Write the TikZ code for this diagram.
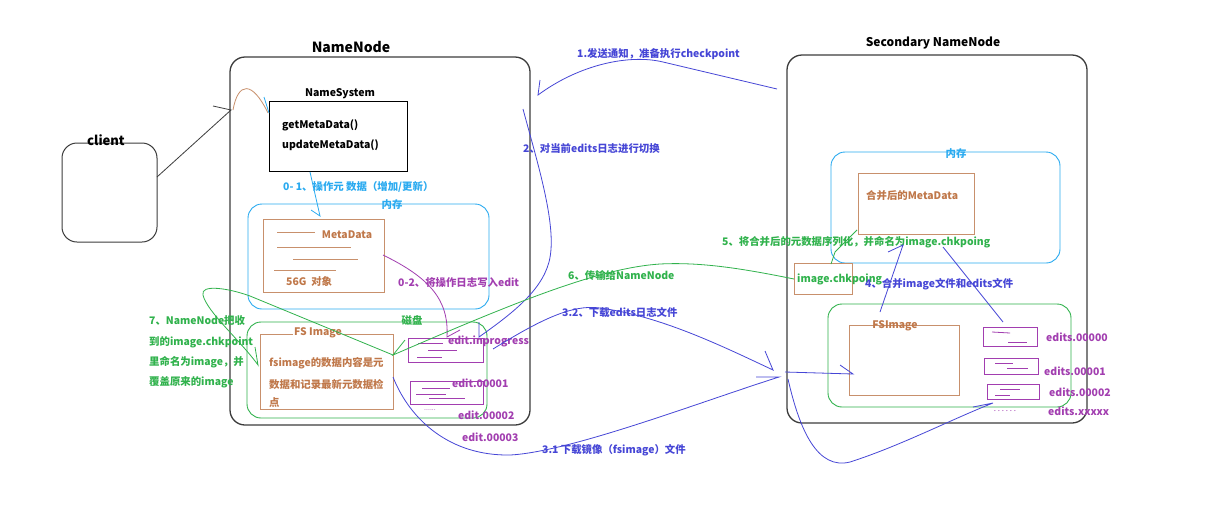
\documentclass[tikz,border=0pt]{standalone}
\usepackage{fontspec}
\setmainfont{Noto Sans CJK SC}
\usetikzlibrary{arrows.meta}
\definecolor{cblue}{HTML}{4646D6}
\definecolor{ccyan}{HTML}{2AAAF0}
\definecolor{cgreen}{HTML}{30B24C}
\definecolor{cpurple}{HTML}{A23EB0}
\definecolor{corange}{HTML}{C8906C}
\definecolor{cotext}{HTML}{C0784A}
\definecolor{cgray}{HTML}{3C3C3C}
\tikzset{
  lbl/.style={inner sep=0pt, anchor=west},
  ttl/.style={inner sep=0pt, font=\fontsize{13}{15}\selectfont\bfseries},
  bigbox/.style={draw=cgray, line width=1.3pt, rounded corners=15pt, anchor=north west, inner sep=0pt, outer sep=0pt},
  membox/.style={draw=ccyan, line width=0.9pt, rounded corners=14pt, anchor=north west, inner sep=0pt, outer sep=0pt},
  diskbox/.style={draw=cgreen, line width=0.9pt, rounded corners=14pt, anchor=north west, inner sep=0pt, outer sep=0pt},
  obox/.style={draw=corange, line width=1pt, anchor=north west, inner sep=0pt, outer sep=0pt},
  pbox/.style={draw=cpurple, line width=1pt, anchor=north west, inner sep=0pt, outer sep=0pt},
  bline/.style={draw=cblue, line width=0.8pt},
  gline/.style={draw=cgreen, line width=0.8pt},
  pline/.style={draw=cpurple, line width=0.8pt},
}
\begin{document}
\begin{tikzpicture}[x=1pt, y=-1pt, font=\fontsize{10.4}{12}\selectfont\bfseries]
\useasboundingbox[fill=white] (0,0) rectangle (1231,531);

% ---------- client ----------
\node[bigbox, line width=1pt, minimum width=95pt, minimum height=99pt] (client) at (62,143) {};
\node[ttl] (clientt) at (106,140) {client};

% ---------- NameNode ----------
\node[bigbox, minimum width=300pt, minimum height=368pt] (nn) at (230,57) {};
\node[ttl, font=\fontsize{14}{16}\selectfont\bfseries] (nnt) at (351,47) {NameNode};

\node[draw=black, line width=1pt, anchor=north west, inner sep=0pt, minimum width=138pt, minimum height=70pt] (ns) at (269,101) {};
\node[inner sep=0pt, font=\fontsize{10.5}{12}\selectfont\bfseries] (nst) at (340,94) {NameSystem};
\node[lbl, font=\fontsize{10.5}{12}\selectfont\bfseries] (get) at (282,125) {getMetaData()};
\node[lbl, font=\fontsize{10.5}{12}\selectfont\bfseries] (upd) at (282,145) {updateMetaData()};

\node[lbl, text=ccyan] (l01) at (283,187) {0- 1、操作元 数据（增加/更新）};

\node[membox, minimum width=241pt, minimum height=105pt] (mem1) at (248,204) {};
\node[inner sep=0pt, text=ccyan] (mem1t) at (392,205) {内存};

\node[obox, minimum width=121pt, minimum height=73pt] (md) at (263,219) {};
\node[inner sep=0pt, text=cotext] (mdt) at (347,235) {MetaData};
\draw[corange, line width=0.8pt] (277,232) -- (315,232);
\draw[corange, line width=0.8pt] (277,247) -- (351,247);
\draw[corange, line width=0.8pt] (293,259) -- (358,259);
\draw[corange, line width=0.8pt] (274,270) -- (336,270);
\node[lbl, text=cotext] (obj) at (286,282) {56G\ \ 对象};

\node[lbl, text=cpurple] (l02) at (398,283) {0-2、将操作日志写入edit};

\node[diskbox, minimum width=240pt, minimum height=96pt] (disk1) at (247,322) {};
\node[inner sep=0pt, text=cgreen] (disk1t) at (412,320) {磁盘};

\node[obox, minimum width=133pt, minimum height=75pt] (fsi) at (260,334) {};
\node[inner sep=1pt, fill=white, text=cotext] (fsit) at (318,333) {FS Image};
\node[lbl, text=cotext] (fs1) at (269,363) {fsimage的数据内容是元};
\node[lbl, text=cotext] (fs2) at (269,384) {数据和记录最新元数据检};
\node[lbl, text=cotext] (fs3) at (269,403) {点};

\node[pbox, minimum width=75pt, minimum height=24pt] (ei) at (408,338) {};
\draw[pline] (418,343) -- (443,343);
\draw[pline] (428,350) -- (457,350);
\draw[pline] (417,357) -- (442,357);
\node[pbox, minimum width=73pt, minimum height=23pt] (e1) at (410,381) {};
\draw[pline] (422,388) -- (450,388);
\draw[pline] (416,394) -- (446,394);
\draw[pline] (429,398) -- (465,398);
\node[lbl, text=cpurple] (eit) at (448,341) {edit.inprogress};
\node[lbl, text=cpurple] (e1t) at (452,383) {edit.00001};
\node[inner sep=0pt, text=cpurple, font=\fontsize{7}{8}\selectfont] (dots1) at (430,410) {......};
\node[lbl, text=cpurple] (e2t) at (458,415) {edit.00002};
\node[lbl, text=cpurple] (e3t) at (462,437) {edit.00003};

\node[lbl, text=cgreen] (l7a) at (149,321) {7、NameNode把收};
\node[lbl, text=cgreen] (l7b) at (149,342) {到的image.chkpoint};
\node[lbl, text=cgreen] (l7c) at (149,362) {里命名为image，并};
\node[lbl, text=cgreen] (l7d) at (149,382) {覆盖原来的image};

% ---------- Secondary NameNode ----------
\node[bigbox, minimum width=300pt, minimum height=368pt] (snn) at (787,55) {};
\node[ttl, font=\fontsize{12}{14}\selectfont\bfseries] (snnt) at (933,43) {Secondary NameNode};

\node[membox, minimum width=229pt, minimum height=111pt] (mem2) at (831,152) {};
\node[inner sep=0pt, text=ccyan] (mem2t) at (956,154) {内存};
\node[obox, minimum width=116pt, minimum height=61pt] (md2) at (858,173) {};
\node[lbl, text=cotext] (md2t) at (866,196) {合并后的MetaData};

\node[lbl, text=cgreen] (l5) at (722,242) {5、将合并后的元数据序列化，并命名为image.chkpoing};

\node[obox, minimum width=58pt, minimum height=31pt] (chk) at (794,263) {};
\node[lbl, text=cgreen] (chkt) at (797,279) {image.chkpoing};

\node[lbl, text=cblue] (l4) at (865,284) {4、合并image文件和edits文件};

\node[diskbox, minimum width=243pt, minimum height=103pt] (disk2) at (828,304) {};
\node[obox, minimum width=110pt, minimum height=70pt] (fsi2) at (849,325) {};
\node[inner sep=0pt, text=cotext] (fsi2t) at (895,326) {FSImage};

\node[pbox, minimum width=54pt, minimum height=19pt] (se0) at (983,327) {};
\draw[pline] (992,332) -- (1010,333);
\draw[pline] (1008,342) -- (1027,342);
\node[pbox, minimum width=54pt, minimum height=16pt] (se1) at (984,358) {};
\draw[pline] (995,363) -- (1013,363);
\draw[pline] (1007,368) -- (1028,368);
\node[pbox, minimum width=52pt, minimum height=15pt] (se2) at (987,384) {};
\draw[pline] (1000,389) -- (1020,389);
\draw[pline] (995,395) -- (1010,395);
\node[inner sep=0pt, text=cpurple, font=\fontsize{8}{9}\selectfont] (dots2) at (1005,411) {.\ .\ .\ .\ .\ .};
\node[lbl, text=cpurple] (se0t) at (1046,337) {edits.00000};
\node[lbl, text=cpurple] (se1t) at (1044,371) {edits.00001};
\node[lbl, text=cpurple] (se2t) at (1049,392) {edits.00002};
\node[lbl, text=cpurple] (sext) at (1048,411) {edits.xxxxx};

% ---------- labels between ----------
\node[lbl, text=cblue] (l1) at (577,54) {1.发送通知，准备执行checkpoint};
\node[lbl, text=cblue] (l2) at (523,149) {2、对当前edits日志进行切换};
\node[lbl, text=cblue] (l32) at (562,313) {3.2、下载edits日志文件};
\node[lbl, text=cblue] (l31) at (542,450) {3.1 下载镜像（fsimage）文件};
\node[lbl, text=cgreen] (l6) at (568,276) {6、传输给NameNode};

% ---------- connectors ----------
\coordinate (cA) at (157,177);
\coordinate (nnA) at (231,110);
\draw[cgray, line width=0.8pt] (cA) -- (nnA) -- (213,106);
\draw[corange, line width=0.8pt] (233,110) .. controls (238,82) and (252,80) .. (268,113);
\draw[ccyan, line width=0.8pt] (264,97) -- (269,113);
\coordinate (nsB) at (310,172);
\coordinate (mem1A) at (320,216);
\draw[ccyan, line width=0.8pt] (nsB) -- (mem1A) -- (311,210);

\coordinate (mdR) at (383,255);
\coordinate (eiA) at (447,337);
\draw[pline] (mdR) .. controls (430,278) and (449,300) .. (eiA) -- (460,330);

\coordinate (snnA) at (777,89);
\coordinate (nnB) at (538,95);
\draw[bline] (snnA) -- (663,62) .. controls (630,54) and (580,64) .. (nnB) -- (540,80);

\coordinate (s2) at (523,109);
\coordinate (eiB) at (479,337);
\draw[bline] (s2) .. controls (538,165) and (558,228) .. (549,262) .. controls (541,292) and (510,315) .. (eiB) -- (479,322);

\coordinate (eiC) at (493,349);
\coordinate (hub) at (773,370);
\draw[bline] (eiC) .. controls (540,320) and (572,304) .. (600,308) .. controls (660,316) and (720,345) .. (hub) -- (765,351);

\coordinate (fsiR) at (393,377);
\coordinate (hub2) at (779,377);
\draw[bline] (fsiR) .. controls (410,420) and (450,456) .. (510,455) .. controls (570,452) and (700,402) .. (hub2) -- (756,377);

\coordinate (hub3) at (785,372);
\coordinate (fsi2A) at (853,374);
\draw[bline] (hub3) -- (fsi2A) -- (840,365);

\coordinate (hub4) at (788,379);
\coordinate (se2A) at (993,403);
\draw[bline] (hub4) .. controls (800,432) and (818,470) .. (850,462) .. controls (900,446) and (950,420) .. (se2A) -- (973,407);

\coordinate (fsi2B) at (880,312);
\coordinate (md2A) at (903,245);
\draw[bline] (fsi2B) -- (md2A) -- (888,252);
\coordinate (md2B) at (943,247);
\coordinate (se0A) at (1003,322);
\draw[bline] (md2B) -- (se0A);

\coordinate (md2C) at (857,230);
\coordinate (chkA) at (831,264);
\draw[gline] (md2C) -- (835,252) -- (chkA);

\coordinate (chkL) at (794,279);
\coordinate (fsiC) at (393,355);
\draw[gline] (chkL) .. controls (740,268) and (700,262) .. (660,264) .. controls (600,268) and (520,300) .. (fsiC) -- (405,340);
\coordinate (fsiL) at (258,365);
\draw[gline] (fsiC) -- (250,296) .. controls (228,288) and (200,284) .. (203,295) .. controls (207,312) and (240,340) .. (fsiL) -- (255,347);

\end{tikzpicture}
\end{document}
